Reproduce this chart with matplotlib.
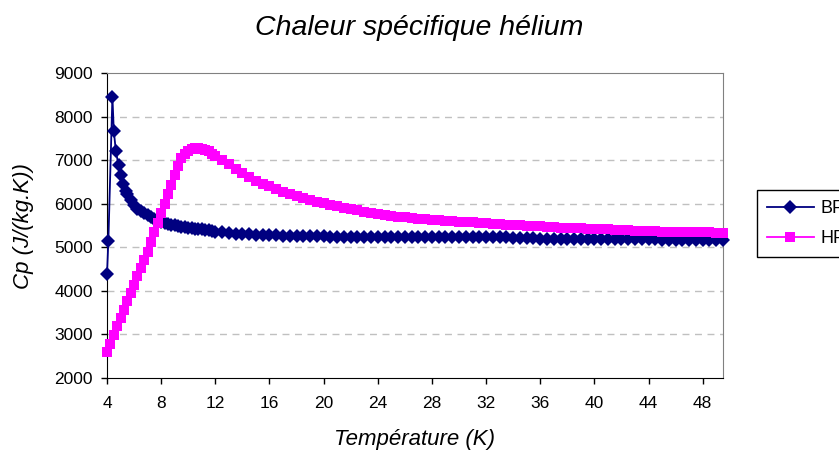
import matplotlib
matplotlib.use('Agg')
import matplotlib.pyplot as plt

#########################################################################
# Data
#########################################################################
# BP series (navy diamonds)
T_bp = [4.0, 4.1, 4.4, 4.5, 4.65, 4.85, 5.05, 5.2, 5.4, 5.5, 5.75,
        6.0, 6.25, 6.5, 6.75, 7.0, 7.25, 7.5, 7.75, 8.0, 8.25, 8.5, 8.75,
        9.0, 9.25, 9.5, 9.75, 10.0, 10.25, 10.5, 10.75, 11.0, 11.25, 11.5, 11.75,
        12.0, 12.5, 13.0, 13.5, 14.0, 14.5, 15.0, 15.5, 16.0, 16.5, 17.0, 17.5,
        18.0, 18.5, 19.0, 19.5, 20.0, 20.5, 21.0, 21.5, 22.0, 22.5, 23.0, 23.5,
        24.0, 24.5, 25.0, 25.5, 26.0, 26.5, 27.0, 27.5, 28.0, 28.5, 29.0, 29.5,
        30.0, 30.5, 31.0, 31.5, 32.0, 32.5, 33.0, 33.5, 34.0, 34.5, 35.0, 35.5,
        36.0, 36.5, 37.0, 37.5, 38.0, 38.5, 39.0, 39.5, 40.0, 40.5, 41.0, 41.5,
        42.0, 42.5, 43.0, 43.5, 44.0, 44.5, 45.0, 45.5, 46.0, 46.5, 47.0, 47.5,
        48.0, 48.5, 49.0, 49.5]
cp_bp = [4380, 5140, 8460, 7680, 7220, 6880, 6650, 6450, 6300, 6220, 6080,
         5970, 5890, 5830, 5780, 5740, 5700, 5660, 5620, 5590, 5560, 5540, 5520,
         5500, 5490, 5470, 5460, 5450, 5440, 5430, 5420, 5410, 5400, 5390, 5370,
         5350, 5340, 5320, 5310, 5300, 5295, 5290, 5285, 5280, 5275, 5270, 5270,
         5270, 5270, 5270, 5270, 5270, 5245, 5245, 5245, 5245, 5245, 5245, 5245,
         5245, 5245, 5245, 5245, 5245, 5245, 5240, 5240, 5240, 5240, 5240, 5240,
         5240, 5240, 5240, 5240, 5240, 5240, 5240, 5240, 5220, 5220, 5220, 5220,
         5190, 5190, 5190, 5190, 5190, 5190, 5190, 5190, 5190, 5190, 5190, 5190,
         5190, 5190, 5190, 5190, 5190, 5190, 5170, 5170, 5170, 5170, 5170, 5170,
         5170, 5170, 5170, 5170]

# HP series (magenta squares)
T_hp = [4.0, 4.25, 4.5, 4.75, 5.0, 5.25, 5.5, 5.75, 6.0, 6.25, 6.5, 6.75,
        7.0, 7.25, 7.5, 7.75, 8.0, 8.25, 8.5, 8.75, 9.0, 9.25, 9.5, 9.75,
        10.0, 10.25, 10.5, 10.75, 11.0, 11.25, 11.5, 11.75, 12.0,
        12.5, 13.0, 13.5, 14.0, 14.5, 15.0, 15.5, 16.0, 16.5, 17.0, 17.5,
        18.0, 18.5, 19.0, 19.5, 20.0, 20.5, 21.0, 21.5, 22.0, 22.5, 23.0, 23.5,
        24.0, 24.5, 25.0, 25.5, 26.0, 26.5, 27.0, 27.5, 28.0, 28.5, 29.0, 29.5,
        30.0, 30.5, 31.0, 31.5, 32.0, 32.5, 33.0, 33.5, 34.0, 34.5, 35.0, 35.5,
        36.0, 36.5, 37.0, 37.5, 38.0, 38.5, 39.0, 39.5, 40.0, 40.5, 41.0, 41.5,
        42.0, 42.5, 43.0, 43.5, 44.0, 44.5, 45.0, 45.5, 46.0, 46.5, 47.0, 47.5,
        48.0, 48.5, 49.0, 49.5]
cp_hp = [2600, 2790, 2990, 3190, 3380, 3570, 3760, 3950, 4140, 4330, 4520, 4710,
         4900, 5120, 5340, 5560, 5780, 6000, 6220, 6440, 6660, 6870, 7040, 7150,
         7220, 7260, 7270, 7270, 7250, 7230, 7200, 7150, 7100,
         7000, 6900, 6800, 6700, 6610, 6530, 6460, 6400, 6340, 6280, 6230,
         6180, 6130, 6090, 6050, 6010, 5970, 5940, 5910, 5880, 5850, 5820, 5790,
         5760, 5740, 5720, 5700, 5690, 5670, 5660, 5640, 5630, 5620, 5610, 5600,
         5590, 5580, 5570, 5560, 5550, 5540, 5530, 5520, 5510, 5500, 5490, 5480,
         5480, 5470, 5460, 5450, 5450, 5440, 5440, 5430, 5420, 5410, 5410, 5400,
         5400, 5390, 5380, 5380, 5370, 5370, 5360, 5360, 5350, 5350, 5350, 5340,
         5340, 5340, 5330, 5330]

x_ticks = [4, 8, 12, 16, 20, 24, 28, 32, 36, 40, 44, 48]
y_ticks = [2000, 3000, 4000, 5000, 6000, 7000, 8000, 9000]

#########################################################################
# Plot
#########################################################################
plt.rcParams['font.family'] = ['Liberation Sans', 'DejaVu Sans']

fig = plt.figure(figsize=(8.39, 4.57), dpi=100)
ax = fig.add_axes([107/839, 1 - 378/457, (723 - 107)/839, (378 - 73)/457])

# Excel does not clip the markers at the plot border
ax.plot(T_bp, cp_bp, color='#000080', linewidth=1.3, marker='D', markersize=7.5,
        markeredgewidth=0, label='BP', zorder=3, clip_on=False)
ax.plot(T_hp, cp_hp, color='#FF00FF', linewidth=1.3, marker='s', markersize=7.8,
        markeredgewidth=0, label='HP', zorder=3, clip_on=False)

ax.set_xlim(4, 49.5)
ax.set_ylim(2000, 9000)
ax.set_xticks(x_ticks)
ax.set_yticks(y_ticks)
ax.tick_params(axis='both', direction='out', length=4, width=1, labelsize=12.5)
ax.tick_params(axis='x', pad=9)
ax.tick_params(axis='y', pad=6)

# dashed grid like Excel
for y in y_ticks[1:-1]:
    ax.axhline(y, color='#C0C0C0', linestyle=(0, (5, 4)), linewidth=1, zorder=1)

for side in ['top', 'right']:
    ax.spines[side].set_color('#808080')
for side in ['left', 'bottom']:
    ax.spines[side].set_color('black')

fig.text(0.5, 1 - 28/457, 'Chaleur spécifique hélium', ha='center', va='center',
         fontsize=20.5, style='italic')
fig.text(415/839, 1 - 440/457, 'Température (K)', ha='center', va='center',
         fontsize=16, style='italic')
fig.text(23/839, 1 - 226/457, 'Cp (J/(kg.K))', ha='center', va='center',
         fontsize=16, style='italic', rotation=90)

leg = fig.legend(loc='upper left', bbox_to_anchor=(757/839, 1 - 190/457),
                 borderaxespad=0, fontsize=13, frameon=True, fancybox=False,
                 borderpad=0.55, handlelength=2.6, handletextpad=0.35,
                 labelspacing=0.75, framealpha=1)
leg.get_frame().set_edgecolor('black')
leg.get_frame().set_linewidth(1)

fig.savefig('out.png', dpi=100)
